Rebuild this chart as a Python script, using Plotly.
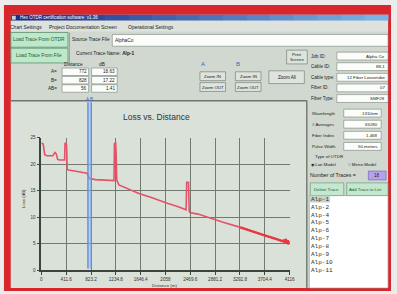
import plotly.graph_objects as go

# ---------------- data ----------------
distance_m = [0, 30, 55, 90, 190, 225, 245, 270, 300, 385, 392, 410, 418, 428, 455, 600, 756, 770, 795,
              900, 1100, 1204, 1212, 1232, 1240, 1250, 1285, 1421, 1617, 1800, 1943, 2100, 2270, 2400,
              2410, 2440, 2452, 2461, 2597, 2800, 3000, 3299, 3500, 3700, 3900, 4000, 4020, 4040, 4055,
              4070, 4085, 4095, 4105, 4116]
loss_db = [24.0, 23.8, 21.8, 21.6, 21.6, 22.2, 22.0, 20.9, 20.8, 20.8, 23.9, 24.0, 23.5, 19.0, 18.9,
           18.6, 18.3, 18.0, 17.3, 17.1, 17.0, 16.9, 23.9, 24.0, 22.0, 17.0, 16.1, 15.4, 14.5, 13.8,
           13.2, 12.6, 12.0, 11.4, 16.6, 16.6, 11.2, 10.9, 10.6, 9.8, 9.1, 8.1, 7.3, 6.6, 5.9, 5.5,
           5.6, 5.2, 5.9, 5.0, 5.7, 4.9, 5.5, 5.0]
x_ticks = [0, 411.6, 823.2, 1234.8, 1646.4, 2058, 2469.6, 2881.2, 3292.8, 3704.4, 4116]
x_tick_labels = ["0", "411.6", "823.2", "1234.8", "1646.4", "2058", "2469.6", "2881.2", "3292.8", "3704.4", "4116"]
y_ticks = [0, 5, 10, 15, 20, 25]
cursor_a = 772
cursor_b = 828
cursor_values = [("A=", "772", "18.63"), ("B=", "828", "17.22"), ("AB=", "56", "1.41")]
info_fields = [("Job ID:", "Alpha Co"), ("Cable ID:", "88-1"), ("Cable type:", "12 Fiber Loosetube"),
               ("Fiber ID:", "07"), ("Fiber Type:", "SMF28")]
setup_fields = [("Wavelength", "1310nm"), ("# Averages", "65280"), ("Fiber Index", "1.468"),
                ("Pulse Width", "50 meters")]
trace_list = ["Alp-1", "Alp-2", "Alp-4", "Alp-5", "Alp-6", "Alp-7", "Alp-8", "Alp-9", "Alp-10", "Alp-11"]
menu_items = ["Chart Settings", "Project Documentation Screen", "Operational Settings"]

# ---------------- helpers (pixel -> paper) ----------------
W, H = 397, 294
def X(px): return px / W
def Y(py): return 1 - py / H

shapes = []
annotations = []
FONT = "Liberation Sans"

def rect(x0, y0, x1, y1, fill, line=None, lw=0.6):
    shapes.append(dict(type="rect", xref="paper", yref="paper", x0=X(x0), x1=X(x1), y0=Y(y1), y1=Y(y0),
                       fillcolor=fill, line=dict(color=line if line else fill, width=lw if line else 0),
                       layer="below"))

def hline(x0, x1, y, color, w=1):
    shapes.append(dict(type="line", xref="paper", yref="paper", x0=X(x0), x1=X(x1), y0=Y(y), y1=Y(y),
                       line=dict(color=color, width=w), layer="below"))

def vline(x, y0, y1, color, w=1):
    shapes.append(dict(type="line", xref="paper", yref="paper", x0=X(x), x1=X(x), y0=Y(y0), y1=Y(y1),
                       line=dict(color=color, width=w), layer="below"))

def text(x, y, s, size=5, color="#222", xanchor="left", family=FONT):
    annotations.append(dict(x=X(x), y=Y(y), xref="paper", yref="paper", text=s, showarrow=False,
                            xanchor=xanchor, yanchor="middle", borderpad=0,
                            font=dict(size=size, color=color, family=family)))

UI = "#d0d8cf"
CHART_BG = "#d9e1d9"
BTN = "#dde3dd"
BTN_LINE = "#6a746a"
BOX_LINE = "#7a827a"

# outer frame
rect(3, 3, 396, 294, "#d9252c")
rect(10, 13, 393, 291, UI)

# title bar gradient
c0 = (28, 45, 135); c1 = (120, 178, 230)
n = 16
for i in range(n):
    t = i / (n - 1)
    col = "rgb(%d,%d,%d)" % tuple(int(c0[k] + (c1[k] - c0[k]) * t) for k in range(3))
    xa = 10 + (393 - 10) * i / n
    xb = 10 + (393 - 10) * (i + 1) / n + 0.5
    rect(xa, 13, xb, 19, col)
text(18, 16, "Hex OTDR certification software  v1.36", 4.5, "#ffffff")
rect(11, 14, 15, 18, "#c8d0e0")

# menu bar
rect(10, 19, 393, 30, "#dde2dc")
mx = [8, 48, 128]
for x, s in zip(mx, menu_items):
    text(x, 25, s, 5, "#222")

# green buttons
rect(10, 31, 68, 46, "#bde8c9", "#5f8f6f", 0.8)
text(39, 38.5, "Load Trace From OTDR", 4.8, "#1f5a32", "center")
rect(10, 47, 68, 62, "#bde8c9", "#5f8f6f", 0.8)
text(39, 54.5, "Load Trace From File", 4.8, "#1f5a32", "center")
vline(69.5, 31, 62, "#8a948a", 0.8)

# source file row
text(71, 38, "Source Trace File", 4.8, "#222")
rect(113, 33, 393, 45, "#fbfdfb", BOX_LINE, 0.6)
text(115, 39, "AlphaCo", 4.8, "#222")
text(75, 52, "Current Trace Name: <b>Alp-1</b>", 4.8, "#222")

# cursor value table
text(74, 63.5, "Distance", 4.8, "#222", "center")
text(103, 63.5, "dB", 4.8, "#222", "center")
for i, (lab, d, db) in enumerate(cursor_values):
    yc = 71 + i * 8.5
    text(58, yc, lab, 4.6, "#222", "right")
    rect(62, yc - 3.8, 89, yc + 3.8, "#fbfdfb", BOX_LINE, 0.6)
    text(88, yc, d, 4.6, "#222", "right")
    rect(92, yc - 3.8, 118, yc + 3.8, "#fbfdfb", BOX_LINE, 0.6)
    text(117, yc, db, 4.6, "#222", "right")

# zoom buttons
text(202, 63, "A", 6, "#3a5fd0")
text(238, 63, "B", 6, "#3a5fd0")
for bx in (202, 238):
    rect(bx, 71, bx + 26, 80, BTN, BTN_LINE, 0.6)
    text(bx + 13, 75.5, "Zoom IN", 4.4, "#222", "center")
    rect(bx, 82, bx + 26, 91, BTN, BTN_LINE, 0.6)
    text(bx + 13, 86.5, "Zoom OUT", 4.4, "#222", "center")
rect(272, 70, 308, 83, BTN, BTN_LINE, 0.6)
text(290, 76.5, "Zoom All", 4.6, "#222", "center")
rect(290, 49, 311, 63, BTN, BTN_LINE, 0.6)
text(300.5, 53, "Print", 4.4, "#222", "center")
text(300.5, 59, "Screen", 4.4, "#222", "center")

# right info fields
for i, (lab, val) in enumerate(info_fields):
    yc = 55 + i * 10.8
    text(314, yc, lab, 4.6, "#222")
    rect(341, yc - 4, 393, yc + 4, "#fbfdfb", BOX_LINE, 0.6)
    text(391, yc, val, 4.4, "#222", "right")
for i, (lab, val) in enumerate(setup_fields):
    yc = 113 + i * 11.3
    text(315, yc, lab, 4.4, "#222")
    rect(348, yc - 4, 386, yc + 4, "#fbfdfb", BOX_LINE, 0.6)
    text(384, yc, val, 4.4, "#222", "right")
text(318, 157, "Type of OTDR", 4.4, "#222")
text(314, 165, "\u25c9 Lan Model", 4.4, "#222")
text(351, 165, "\u25cb Metro Model", 4.4, "#222")
text(313, 176.5, "Number of Traces =", 5.2, "#222")
rect(373, 172, 391, 181, "#b3a3ee", "#6a5ab0", 0.6)
text(382, 176.5, "18", 4.6, "#222", "center")
rect(314, 184, 348, 197, "#c3e8cf", "#5f8f6f", 0.6)
text(331, 190.5, "Delete Trace", 4.3, "#1f5a32", "center")
rect(351, 184, 393, 197, "#c3e8cf", "#5f8f6f", 0.6)
text(352, 190.5, "Add Trace to List", 4.3, "#1f5a32")

# trace list box
rect(313, 197, 393, 291, "#ffffff", "#8a928a", 0.6)
for i, s in enumerate(trace_list):
    yc = 200.5 + i * 8.1
    if i == 0:
        rect(313.5, yc - 3.5, 334, yc + 3.5, "#c8d2c8")
    text(314, yc, s, 6, "#2a342a", family="Liberation Mono")

# chart panel
rect(10, 100, 310, 291, CHART_BG)
hline(10, 310, 100.5, "#6e766e", 1.6)
vline(310.5, 100, 291, "#6e766e", 1.4)

# ---------------- chart ----------------
fig = go.Figure()
fig.add_trace(go.Scatter(x=distance_m, y=loss_db, mode="lines",
                         line=dict(color="#e5526a", width=1.6), hoverinfo="skip", showlegend=False))
# noisier far-end section drawn heavier, as in the original
tail_idx = [i for i, d in enumerate(distance_m) if d >= 3299]
fig.add_trace(go.Scatter(x=[distance_m[i] for i in tail_idx], y=[loss_db[i] for i in tail_idx],
                         mode="lines", line=dict(color="#e63a3e", width=2.4),
                         hoverinfo="skip", showlegend=False))

# cursor band + lines (A / B)
shapes.append(dict(type="rect", xref="x", yref="paper", x0=cursor_a, x1=cursor_b, y0=Y(271), y1=Y(102),
                   fillcolor="rgba(150,180,245,0.45)", line=dict(width=0), layer="above"))
for cx in (cursor_a, cursor_b):
    shapes.append(dict(type="line", xref="x", yref="paper", x0=cx, x1=cx, y0=Y(271), y1=Y(102),
                       line=dict(color="#5f8ee6", width=1.4), layer="above"))
for cx, s in ((cursor_a, "A"), (cursor_b, "B")):
    annotations.append(dict(x=cx, y=Y(99.5), xref="x", yref="paper", text=s, showarrow=False,
                            xanchor="center", yanchor="middle", borderpad=0,
                            font=dict(size=4.5, color="#3a63d6", family=FONT)))

# titles
text(158, 117, "Loss vs. Distance", 8.5, "#333", "center")
text(166, 288.5, "Distance (m)", 4.4, "#333", "center")
annotations.append(dict(x=X(23), y=Y(200), xref="paper", yref="paper", text="Loss (dB)", showarrow=False,
                        textangle=-90, xanchor="center", yanchor="middle",
                        font=dict(size=4.4, color="#333", family=FONT)))

fig.update_layout(
    width=W, height=H, margin=dict(l=0, r=0, t=0, b=0),
    paper_bgcolor="#ececec", plot_bgcolor="rgba(0,0,0,0)",
    shapes=shapes, annotations=annotations, showlegend=False,
    xaxis=dict(domain=[X(41), X(293)], range=[0, 4116], tickvals=x_ticks, ticktext=x_tick_labels,
               showgrid=True, gridcolor="#6f7b70", gridwidth=0.8, zeroline=False,
               showline=True, linecolor="#3c443c", linewidth=1.6, ticks="outside", ticklen=3,
               tickcolor="#3c443c", tickwidth=1.2,
               tickfont=dict(size=4.6, color="#333", family=FONT), fixedrange=True),
    yaxis=dict(domain=[Y(273), Y(138)], range=[0, 25], tickvals=y_ticks,
               showgrid=True, gridcolor="#6f7b70", gridwidth=0.8, zeroline=False,
               showline=True, linecolor="#3c443c", linewidth=1.6, ticks="outside", ticklen=3,
               tickcolor="#3c443c", tickwidth=1.2,
               tickfont=dict(size=4.6, color="#333", family=FONT), fixedrange=True),
)
fig.write_html("out.html", config={"displayModeBar": False},
               post_script="document.body.style.margin='0';document.body.style.overflow='hidden';")
